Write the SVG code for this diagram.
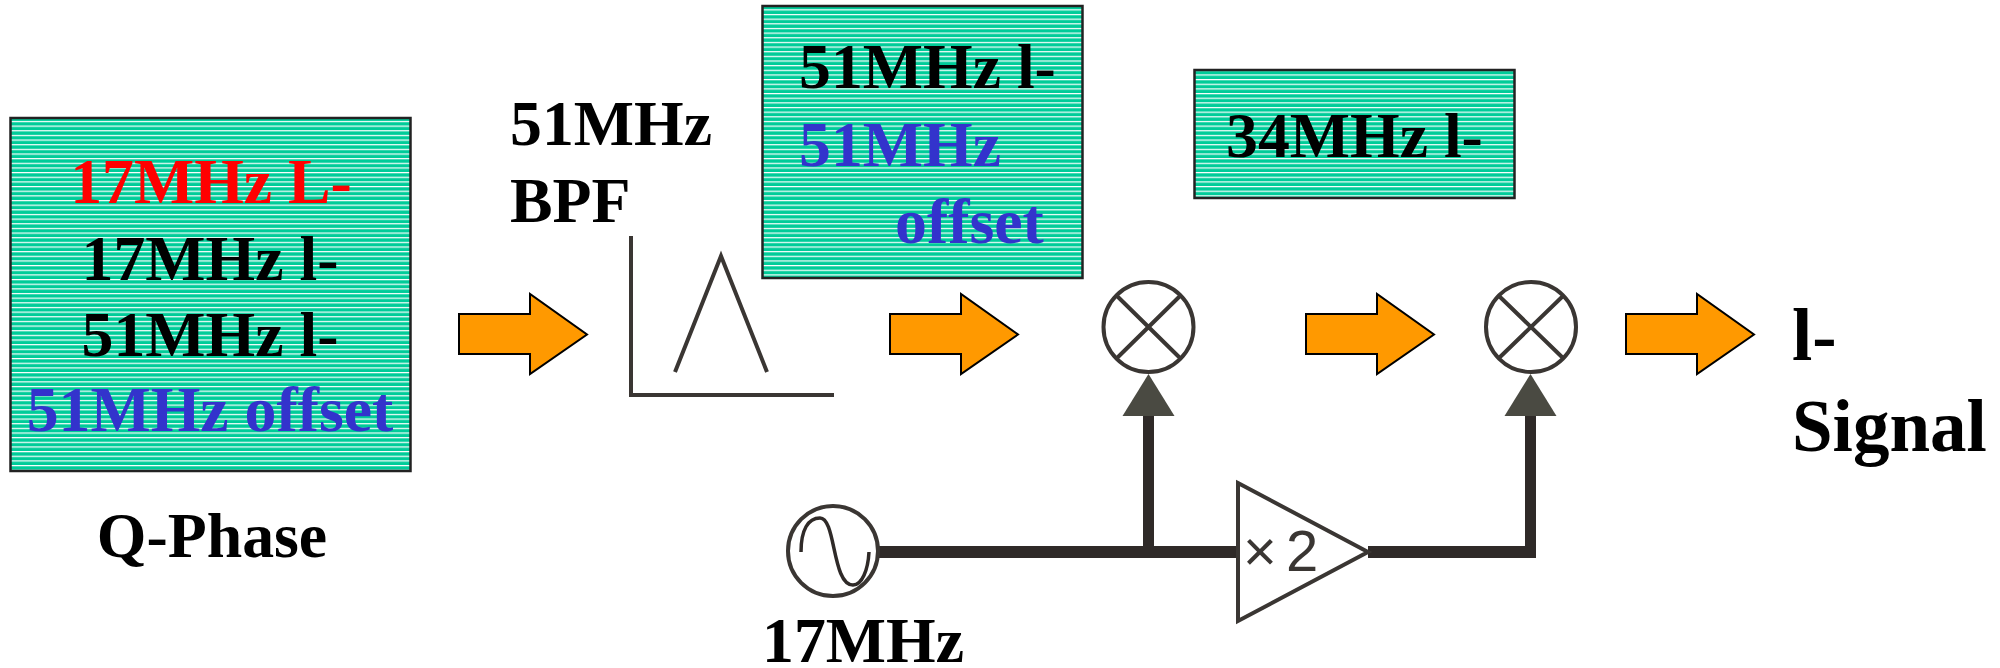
<svg xmlns="http://www.w3.org/2000/svg" width="2000" height="668" viewBox="0 0 2000 668">
<defs>
<pattern id="stripes" width="10" height="4.65" patternUnits="userSpaceOnUse">
<rect width="10" height="4.65" fill="#00cc99"/>
<rect y="0" width="10" height="1.2" fill="#ffffff"/>
</pattern>
<g id="arrowShape"><polygon class="arrow" points="0,20 71,20 71,0 128,40.500 71,80 71,60 0,60"/></g>
</defs>
<style>
text{font-family:"Liberation Serif","Times New Roman",serif;font-weight:bold;font-size:63.8px;fill:#000}
.box{fill:url(#stripes);stroke:#222;stroke-width:2.5}
.arrow{fill:#ff9900;stroke:#000;stroke-width:2;stroke-linejoin:miter}
.blue{fill:#3333cc}
.red{fill:#ff0000}
.sym{fill:#fff;stroke:#3a3633;stroke-width:4}
.thin{fill:none;stroke:#3a3633;stroke-width:4}
.wave{fill:none;stroke:#2f2a28;stroke-width:3.5}
.wire{fill:none;stroke:#2f2a28;stroke-width:12}
.stem{fill:none;stroke:#2f2a28;stroke-width:11}
.head{fill:#4a4a42}
.big{font-size:73px}
</style>
<rect width="2000" height="668" fill="#fff"/>
<g id="q-phase">
<rect class="box" x="10.500" y="118" width="400" height="353"/>
<text class="red" x="211" y="203" text-anchor="middle">17MHz L-</text>
<text x="210" y="280" text-anchor="middle">17MHz l-</text>
<text x="210" y="356" text-anchor="middle">51MHz l-</text>
<text class="blue" x="210" y="431" text-anchor="middle">51MHz offset</text>
<text x="212" y="557" text-anchor="middle">Q-Phase</text>
</g>
<g id="bpf">
<text x="510" y="145">51MHz</text>
<text x="510" y="222">BPF</text>
<path class="thin" d="M631 236V395H834M675 372L721 256L767 372"/>
</g>
<g id="box-51">
<rect class="box" x="762.500" y="6" width="320" height="272"/>
<text x="799" y="88">51MHz l-</text>
<text class="blue" x="799" y="166">51MHz</text>
<text class="blue" x="895" y="243">offset</text>
</g>
<g id="box-34">
<rect class="box" x="1194.500" y="70" width="320" height="128"/>
<text x="1226" y="157">34MHz l-</text>
</g>
<g id="arrows">
<use href="#arrowShape" x="459" y="294"/>
<use href="#arrowShape" x="890" y="294"/>
<use href="#arrowShape" x="1306" y="294"/>
<use href="#arrowShape" x="1626" y="294"/>
</g>
<g id="mixer-1">
<circle class="sym" cx="1148.500" cy="327" r="45"/>
<path class="thin" d="M1117 296L1180 358M1180 296L1117 358"/>
</g>
<g id="mixer-2">
<circle class="sym" cx="1531" cy="327" r="45"/>
<path class="thin" d="M1499 296L1563 358M1563 296L1499 358"/>
</g>
<g id="connectors">
<path class="wire" d="M878 552H1237M1368 552H1530.500"/>
<path class="stem" d="M1148.500 552V410M1530.500 558V410"/>
<polygon class="head" points="1148.500,374 1174.500,416 1122.500,416"/>
<polygon class="head" points="1530.500,374 1556.500,416 1504.500,416"/>
</g>
<g id="oscillator">
<circle class="sym" cx="833" cy="551" r="45"/>
<path class="wave" d="M801 552C801 530 808 518 820 518C836 518 832 585 853 585C862 585 868 570 869 552"/>
<text x="762" y="662">17MHz</text>
</g>
<g id="doubler">
<polygon class="sym" points="1238,483 1368,552 1238,621"/>
<text x="1243" y="571" style="font-family:'Liberation Sans',Arial,sans-serif;font-weight:normal;font-size:58px;fill:#3a3633;word-spacing:-7px">× 2</text>
</g>
<g id="output">
<text class="big" x="1792" y="360">l-</text>
<text class="big" x="1792" y="451">Signal</text>
</g>
</svg>
